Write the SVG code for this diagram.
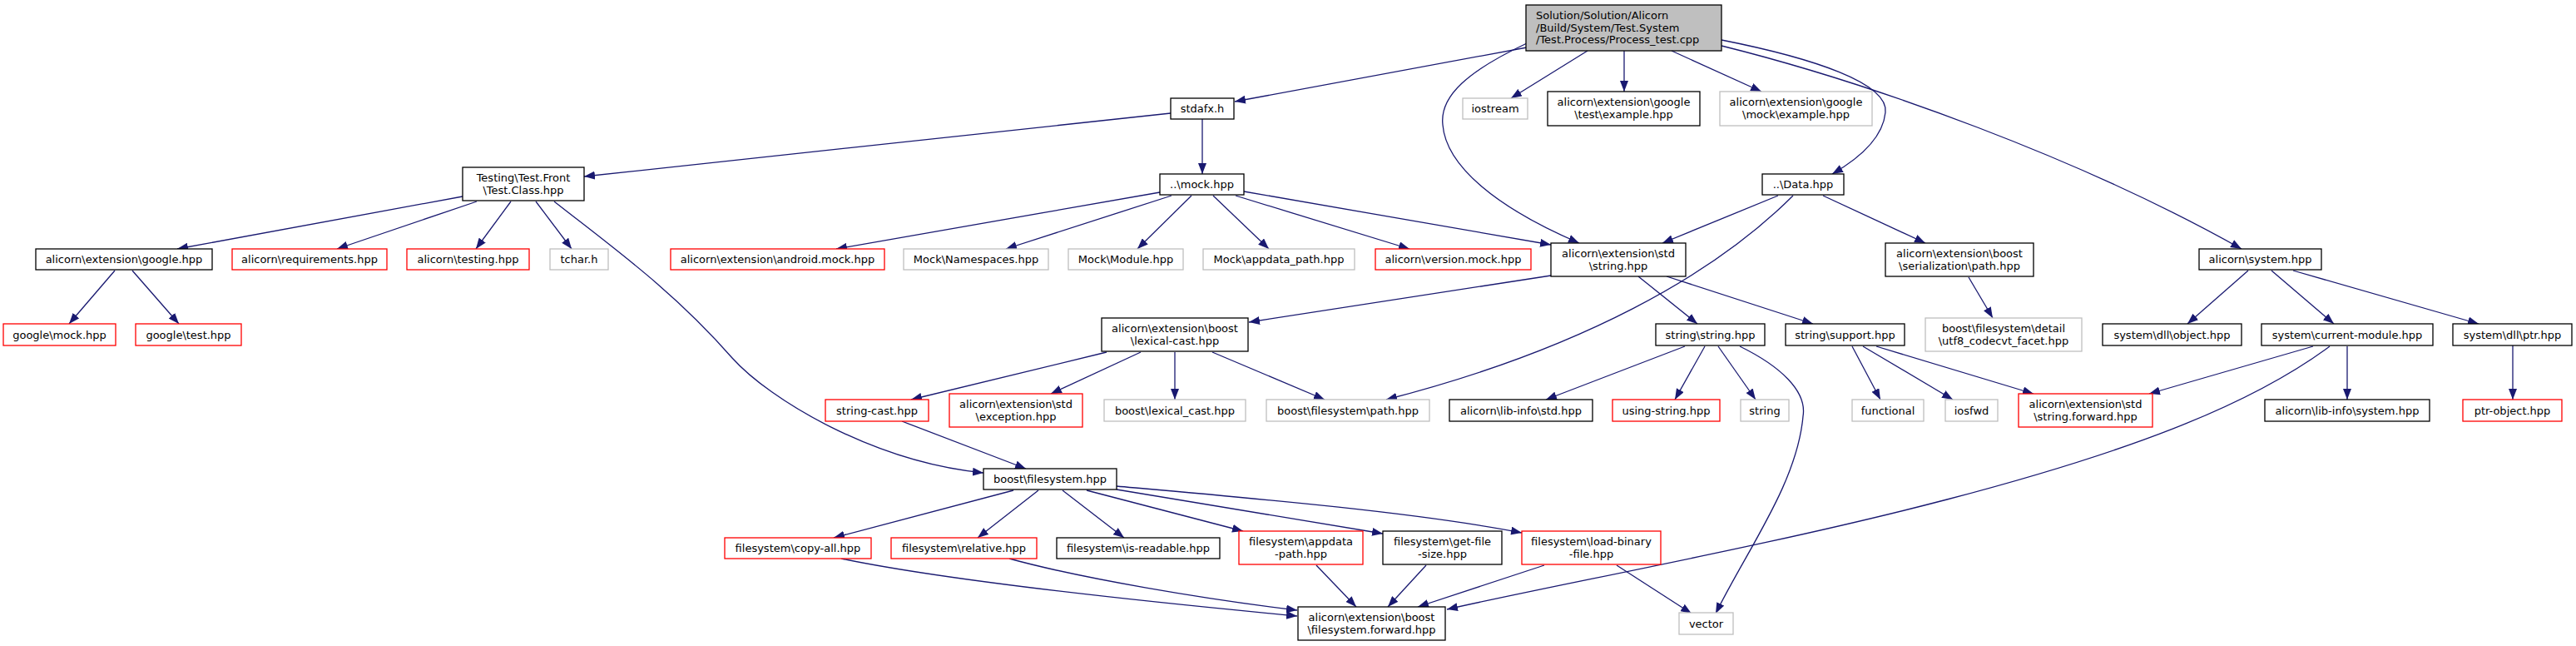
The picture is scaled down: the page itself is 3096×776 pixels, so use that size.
<svg xmlns="http://www.w3.org/2000/svg" width="3096" height="776" viewBox="0 0 3096 776">
<style>
text{font-family:"DejaVu Sans","Liberation Sans",sans-serif;font-size:13px;fill:#000}
.c{text-anchor:middle}
rect{fill:#fff;stroke-width:1.3}
.k rect{stroke:#000}
.g rect{stroke:#bfbfbf}
.r rect{stroke:#ff0000}
.root rect{fill:#bfbfbf;stroke:#000}
#edges path{fill:none;stroke:#191970;stroke-width:1.3;marker-end:url(#ah)}
</style>
<defs>
<marker id="ah" markerUnits="userSpaceOnUse" markerWidth="13" markerHeight="10" refX="13" refY="5" orient="auto" viewBox="0 0 13 10">
<path d="M0,0 L13,5 L0,10 z" fill="#191970"/>
</marker>
</defs>
<rect x="0" y="0" width="3096" height="776" fill="#fff" stroke="none"/>
<g id="edges">
<path d="M1835,57 L1484,122"/>
<path d="M1835,52 C1765,85 1730,115 1734,150 C1738,200 1800,250 1898,292"/>
<path d="M1908,61 L1816,118"/>
<path d="M1952,61 L1952,110"/>
<path d="M2009,61 L2117,110"/>
<path d="M2069,48 C2180,70 2270,100 2266,135 C2263,165 2235,190 2202,209"/>
<path d="M2069,55 C2250,100 2500,190 2694,299"/>
<path d="M1407,136 L702,212"/>
<path d="M1445,143 L1445,209"/>
<path d="M556,236 L213,299"/>
<path d="M573,242 L405,299"/>
<path d="M614,242 L572,299"/>
<path d="M644,242 L687,299"/>
<path d="M666,242 C740,300 810,350 880,430 C925,480 1050,555 1182,568"/>
<path d="M138,325 L83,389"/>
<path d="M159,325 L215,389"/>
<path d="M1394,231 L1005,299"/>
<path d="M1408,235 L1209,299"/>
<path d="M1432,235 L1367,299"/>
<path d="M1458,235 L1525,299"/>
<path d="M1485,235 L1694,299"/>
<path d="M1495,230 L1864,294"/>
<path d="M2137,235 L1998,292"/>
<path d="M2155,235 C2060,330 1900,420 1666,480"/>
<path d="M2191,235 L2314,292"/>
<path d="M2366,333 L2395,382"/>
<path d="M2702,325 L2629,389"/>
<path d="M2730,325 L2805,389"/>
<path d="M2756,325 L2979,389"/>
<path d="M1864,331 L1501,387"/>
<path d="M1969,332 L2040,389"/>
<path d="M2003,332 L2179,389"/>
<path d="M1330,423 L1095,480"/>
<path d="M1371,423 L1263,473"/>
<path d="M1412,423 L1412,480"/>
<path d="M1457,423 L1592,480"/>
<path d="M2025,416 L1858,480"/>
<path d="M2049,416 L2013,480"/>
<path d="M2065,416 L2110,480"/>
<path d="M2091,416 C2140,440 2172,470 2167,500 C2160,580 2100,660 2062,737"/>
<path d="M2226,416 L2260,480"/>
<path d="M2239,416 L2347,480"/>
<path d="M2255,416 L2444,473"/>
<path d="M2780,416 L2583,473"/>
<path d="M2821,416 L2821,480"/>
<path d="M2800,416 C2700,490 2550,545 2340,600 C2130,655 1880,700 1739,732"/>
<path d="M3020,415 L3020,480"/>
<path d="M1084,506 L1233,563"/>
<path d="M1218,589 L1002,646"/>
<path d="M1248,589 L1175,646"/>
<path d="M1277,589 L1351,646"/>
<path d="M1306,589 L1494,638"/>
<path d="M1342,588 L1662,641"/>
<path d="M1342,584 C1500,598 1700,615 1829,640"/>
<path d="M1011,671 C1150,700 1400,725 1559,740"/>
<path d="M1213,671 C1300,695 1450,720 1559,733"/>
<path d="M1582,679 L1630,729"/>
<path d="M1714,679 L1668,729"/>
<path d="M1856,679 L1704,729"/>
<path d="M1943,679 L2033,737"/>
</g>
<g id="n_root" class="root"><rect x="1834" y="6" width="235" height="55"/><text x="1846" y="22.5">Solution/Solution/Alicorn</text><text x="1846" y="37.5">/Build/System/Test.System</text><text x="1846" y="52">/Test.Process/Process_test.cpp</text></g>
<g id="n_stdafx" class="k"><rect x="1407" y="118" width="76" height="25"/><text class="c" x="1445" y="135">stdafx.h</text></g>
<g id="n_iostream" class="g"><rect x="1758" y="118" width="78" height="25"/><text class="c" x="1797" y="135">iostream</text></g>
<g id="n_gtest_example" class="k"><rect x="1860" y="110" width="183" height="41"/><text class="c" x="1951.5" y="127">alicorn\extension\google</text><text class="c" x="1951.5" y="142">\test\example.hpp</text></g>
<g id="n_gmock_example" class="g"><rect x="2067" y="110" width="183" height="41"/><text class="c" x="2158.5" y="127">alicorn\extension\google</text><text class="c" x="2158.5" y="142">\mock\example.hpp</text></g>
<g id="n_testclass" class="k"><rect x="556" y="201" width="146" height="40"/><text class="c" x="629" y="217.5">Testing\Test.Front</text><text class="c" x="629" y="232.5">\Test.Class.hpp</text></g>
<g id="n_mock" class="k"><rect x="1394" y="209" width="101" height="25"/><text class="c" x="1444.5" y="226">..\mock.hpp</text></g>
<g id="n_data" class="k"><rect x="2118" y="209" width="98" height="25"/><text class="c" x="2167" y="226">..\Data.hpp</text></g>
<g id="n_google" class="k"><rect x="43" y="299" width="212" height="25"/><text class="c" x="149" y="316">alicorn\extension\google.hpp</text></g>
<g id="n_requirements" class="r"><rect x="279" y="299" width="186" height="25"/><text class="c" x="372" y="316">alicorn\requirements.hpp</text></g>
<g id="n_testing" class="r"><rect x="489" y="299" width="147" height="25"/><text class="c" x="562.5" y="316">alicorn\testing.hpp</text></g>
<g id="n_tchar" class="g"><rect x="661" y="299" width="70" height="25"/><text class="c" x="696" y="316">tchar.h</text></g>
<g id="n_android" class="r"><rect x="806" y="299" width="257" height="25"/><text class="c" x="934.5" y="316">alicorn\extension\android.mock.hpp</text></g>
<g id="n_namespaces" class="g"><rect x="1086" y="299" width="174" height="25"/><text class="c" x="1173" y="316">Mock\Namespaces.hpp</text></g>
<g id="n_module" class="g"><rect x="1284" y="299" width="138" height="25"/><text class="c" x="1353" y="316">Mock\Module.hpp</text></g>
<g id="n_mock_appdata" class="g"><rect x="1446" y="299" width="182" height="25"/><text class="c" x="1537" y="316">Mock\appdata_path.hpp</text></g>
<g id="n_version" class="r"><rect x="1653" y="299" width="187" height="25"/><text class="c" x="1746.5" y="316">alicorn\version.mock.hpp</text></g>
<g id="n_std_string" class="k"><rect x="1864" y="292" width="162" height="40"/><text class="c" x="1945" y="308.5">alicorn\extension\std</text><text class="c" x="1945" y="323.5">\string.hpp</text></g>
<g id="n_serialization" class="k"><rect x="2266" y="292" width="178" height="40"/><text class="c" x="2355" y="308.5">alicorn\extension\boost</text><text class="c" x="2355" y="323.5">\serialization\path.hpp</text></g>
<g id="n_system" class="k"><rect x="2643" y="299" width="147" height="25"/><text class="c" x="2716.5" y="316">alicorn\system.hpp</text></g>
<g id="n_google_mock" class="r"><rect x="4" y="389" width="135" height="26"/><text class="c" x="71.5" y="406.5">google\mock.hpp</text></g>
<g id="n_google_test" class="r"><rect x="163" y="389" width="127" height="26"/><text class="c" x="226.5" y="406.5">google\test.hpp</text></g>
<g id="n_lexical" class="k"><rect x="1324" y="382" width="176" height="40"/><text class="c" x="1412" y="398.5">alicorn\extension\boost</text><text class="c" x="1412" y="413.5">\lexical-cast.hpp</text></g>
<g id="n_string_string" class="k"><rect x="1990" y="389" width="131" height="26"/><text class="c" x="2055.5" y="406.5">string\string.hpp</text></g>
<g id="n_support" class="k"><rect x="2146" y="389" width="143" height="26"/><text class="c" x="2217.5" y="406.5">string\support.hpp</text></g>
<g id="n_utf8" class="g"><rect x="2314" y="382" width="188" height="40"/><text class="c" x="2408" y="398.5">boost\filesystem\detail</text><text class="c" x="2408" y="413.5">\utf8_codecvt_facet.hpp</text></g>
<g id="n_object" class="k"><rect x="2527" y="389" width="167" height="26"/><text class="c" x="2610.5" y="406.5">system\dll\object.hpp</text></g>
<g id="n_current" class="k"><rect x="2718" y="389" width="206" height="26"/><text class="c" x="2821" y="406.5">system\current-module.hpp</text></g>
<g id="n_ptr" class="k"><rect x="2948" y="389" width="143" height="26"/><text class="c" x="3019.5" y="406.5">system\dll\ptr.hpp</text></g>
<g id="n_string_cast" class="r"><rect x="992" y="480" width="124" height="26"/><text class="c" x="1054" y="497.5">string-cast.hpp</text></g>
<g id="n_exception" class="r"><rect x="1141" y="473" width="160" height="40"/><text class="c" x="1221" y="489.5">alicorn\extension\std</text><text class="c" x="1221" y="504.5">\exception.hpp</text></g>
<g id="n_boost_lexical" class="g"><rect x="1327" y="480" width="170" height="26"/><text class="c" x="1412" y="497.5">boost\lexical_cast.hpp</text></g>
<g id="n_boost_path" class="g"><rect x="1522" y="480" width="196" height="26"/><text class="c" x="1620" y="497.5">boost\filesystem\path.hpp</text></g>
<g id="n_libinfo_std" class="k"><rect x="1742" y="480" width="172" height="26"/><text class="c" x="1828" y="497.5">alicorn\lib-info\std.hpp</text></g>
<g id="n_using_string" class="r"><rect x="1938" y="480" width="129" height="26"/><text class="c" x="2002.5" y="497.5">using-string.hpp</text></g>
<g id="n_string" class="g"><rect x="2092" y="480" width="58" height="26"/><text class="c" x="2121" y="497.5">string</text></g>
<g id="n_functional" class="g"><rect x="2226" y="480" width="86" height="26"/><text class="c" x="2269" y="497.5">functional</text></g>
<g id="n_iosfwd" class="g"><rect x="2338" y="480" width="63" height="26"/><text class="c" x="2369.5" y="497.5">iosfwd</text></g>
<g id="n_string_forward" class="r"><rect x="2426" y="473" width="161" height="40"/><text class="c" x="2506.5" y="489.5">alicorn\extension\std</text><text class="c" x="2506.5" y="504.5">\string.forward.hpp</text></g>
<g id="n_libinfo_system" class="k"><rect x="2722" y="480" width="198" height="26"/><text class="c" x="2821" y="497.5">alicorn\lib-info\system.hpp</text></g>
<g id="n_ptr_object" class="r"><rect x="2960" y="480" width="119" height="26"/><text class="c" x="3019.5" y="497.5">ptr-object.hpp</text></g>
<g id="n_filesystem" class="k"><rect x="1182" y="563" width="160" height="25"/><text class="c" x="1262" y="580">boost\filesystem.hpp</text></g>
<g id="n_copy_all" class="r"><rect x="871" y="646" width="176" height="25"/><text class="c" x="959" y="663">filesystem\copy-all.hpp</text></g>
<g id="n_relative" class="r"><rect x="1071" y="646" width="175" height="25"/><text class="c" x="1158.5" y="663">filesystem\relative.hpp</text></g>
<g id="n_is_readable" class="k"><rect x="1270" y="646" width="196" height="25"/><text class="c" x="1368" y="663">filesystem\is-readable.hpp</text></g>
<g id="n_appdata_path" class="r"><rect x="1489" y="638" width="149" height="40"/><text class="c" x="1563.5" y="654.5">filesystem\appdata</text><text class="c" x="1563.5" y="669.5">-path.hpp</text></g>
<g id="n_get_file_size" class="k"><rect x="1662" y="638" width="143" height="40"/><text class="c" x="1733.5" y="654.5">filesystem\get-file</text><text class="c" x="1733.5" y="669.5">-size.hpp</text></g>
<g id="n_load_binary" class="r"><rect x="1829" y="638" width="167" height="40"/><text class="c" x="1912.5" y="654.5">filesystem\load-binary</text><text class="c" x="1912.5" y="669.5">-file.hpp</text></g>
<g id="n_fs_forward" class="k"><rect x="1560" y="729" width="177" height="40"/><text class="c" x="1648.5" y="745.5">alicorn\extension\boost</text><text class="c" x="1648.5" y="760.5">\filesystem.forward.hpp</text></g>
<g id="n_vector" class="g"><rect x="2018" y="736" width="65" height="26"/><text class="c" x="2050.5" y="753.5">vector</text></g>
</svg>
